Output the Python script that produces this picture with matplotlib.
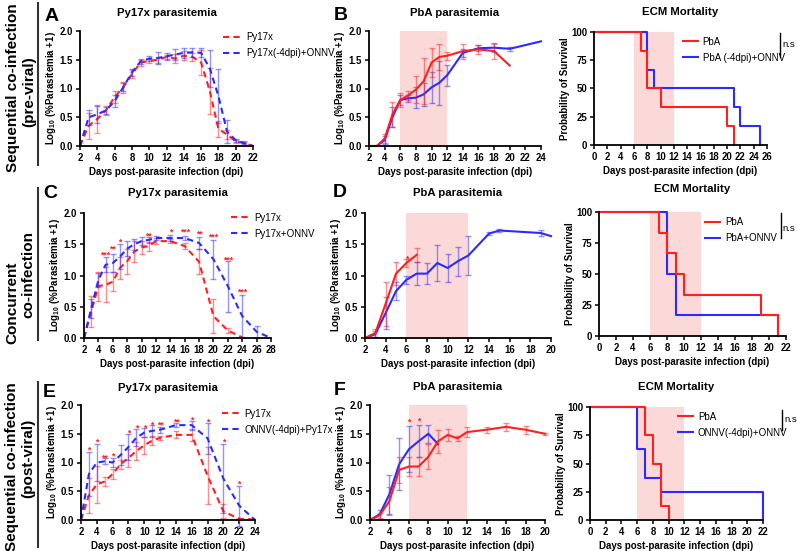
import matplotlib
matplotlib.use("Agg")
import matplotlib.pyplot as plt
from matplotlib.lines import Line2D
from matplotlib.ticker import FormatStrFormatter, MultipleLocator
import numpy as np

plt.rcParams['font.family'] = ['Liberation Sans', 'DejaVu Sans']
plt.rcParams['font.weight'] = 'bold'
plt.rcParams['axes.labelweight'] = 'bold'
plt.rcParams['mathtext.fontset'] = 'custom'
plt.rcParams['mathtext.rm'] = 'Liberation Sans:bold'
plt.rcParams['mathtext.default'] = 'rm'

RED = '#ff1f1f'
BLUE = '#2b2bff'
SHADE = '#fcd9d9'

# ---------------- Data ----------------
# Panel A (Py17x, pre-viral)
A_days = [2, 3, 4, 5, 6, 7, 8, 9, 10, 11, 12, 13, 14, 15, 16, 17, 18, 19, 20, 21, 22]
A_red = [0, 0.35, 0.47, 0.62, 0.85, 1.02, 1.25, 1.45, 1.48, 1.50, 1.55, 1.52, 1.57, 1.55, 1.45, 0.96, 0.30, 0.20, 0.08, 0.05, 0.0]
A_red_err = [0, 0.22, 0.25, 0.08, 0.11, 0.10, 0.07, 0.05, 0.04, 0.05, 0.03, 0.08, 0.08, 0.07, 0.22, 0.40, 0.14, 0.08, 0.03, 0.03, 0]
A_blue = [0, 0.50, 0.55, 0.62, 0.78, 1.02, 1.28, 1.47, 1.52, 1.53, 1.56, 1.59, 1.62, 1.63, 1.62, 1.35, 0.87, 0.25, 0.10, 0.05, 0.0]
A_blue_err = [0, 0.13, 0.15, 0.06, 0.10, 0.07, 0.06, 0.05, 0.05, 0.10, 0.06, 0.10, 0.09, 0.08, 0.08, 0.32, 0.47, 0.20, 0.03, 0.02, 0]

# Panel B (PbA, pre-viral)
B_red_days = [2, 3, 4, 5, 6, 7, 8, 9, 10, 11, 12, 14, 16, 18, 20]
B_red = [0, 0, 0.13, 0.55, 0.80, 0.88, 0.98, 1.13, 1.45, 1.55, 1.57, 1.65, 1.68, 1.65, 1.40]
B_red_err = [0, 0, 0.08, 0.22, 0.13, 0.08, 0.23, 0.40, 0.25, 0.22, 0.07, 0.13, 0.08, 0.13, 0]
B_blue_days = [2, 3, 4, 5, 6, 7, 8, 9, 10, 11, 12, 14, 16, 18, 20, 24]
B_blue = [0, 0, 0.10, 0.50, 0.80, 0.83, 0.84, 0.90, 1.02, 1.10, 1.23, 1.62, 1.70, 1.71, 1.69, 1.82]
B_blue_err = [0, 0, 0.07, 0.17, 0.08, 0.06, 0.18, 0.20, 0.27, 0.38, 0.18, 0.07, 0.05, 0.08, 0.03, 0]

# Panel C (Py17x, concurrent)
C_red_days = [2, 3, 4, 5, 6, 7, 8, 9, 10, 11, 12, 14, 16, 18, 20, 22, 24]
C_red = [0, 0.42, 0.83, 0.85, 0.90, 1.12, 1.23, 1.38, 1.45, 1.47, 1.55, 1.55, 1.47, 1.22, 0.35, 0.12, 0.01]
C_red_err = [0, 0.25, 0.23, 0.28, 0.15, 0.18, 0.20, 0.17, 0.10, 0.07, 0.05, 0.03, 0.05, 0.20, 0.27, 0.04, 0]
C_blue_days = [2, 3, 4, 5, 6, 7, 8, 9, 10, 11, 12, 14, 16, 18, 20, 22, 24, 26, 28]
C_blue = [0, 0.47, 0.93, 1.17, 1.20, 1.30, 1.43, 1.50, 1.55, 1.57, 1.60, 1.60, 1.60, 1.52, 1.26, 0.83, 0.35, 0.10, 0.0]
C_blue_err = [0, 0.15, 0.11, 0.12, 0.15, 0.20, 0.12, 0.09, 0.06, 0.05, 0.03, 0.05, 0.03, 0.10, 0.31, 0.41, 0.34, 0.10, 0]
C_star_x = [5, 6, 7, 11, 14, 16, 18, 20, 22, 24]
C_star_y = [1.33, 1.43, 1.53, 1.63, 1.70, 1.69, 1.66, 1.62, 1.25, 0.73]
C_star_txt = ['***', '**', '*', '**', '*', '***', '**', '***', '***', '***']

# Panel D (PbA, concurrent)
D_red_days = [2, 3, 4, 5, 6, 7]
D_red = [0, 0.08, 0.55, 1.03, 1.20, 1.33]
D_red_err = [0, 0.06, 0.35, 0.18, 0.06, 0.11]
D_blue_days = [2, 3, 4, 5, 6, 7, 8, 9, 10, 11, 12, 14, 15, 19, 20]
D_blue = [0, 0.06, 0.40, 0.75, 0.93, 1.03, 1.03, 1.20, 1.12, 1.23, 1.32, 1.67, 1.72, 1.68, 1.63]
D_blue_err = [0, 0.05, 0.26, 0.14, 0.07, 0.18, 0.17, 0.29, 0.23, 0.23, 0.31, 0.02, 0.02, 0.05, 0]
D_star_x = [6]
D_star_y = [1.27]
D_star_txt = ['*']

# Panel E (Py17x, post-viral)
E_days = [2, 3, 4, 5, 6, 7, 8, 9, 10, 11, 12, 14, 16, 18, 20, 22, 24]
E_red = [0, 0.43, 0.62, 0.67, 0.80, 0.97, 1.08, 1.20, 1.30, 1.38, 1.43, 1.48, 1.48, 0.77, 0.15, 0.02, 0.01]
E_red_err = [0, 0.30, 0.32, 0.07, 0.08, 0.08, 0.15, 0.15, 0.15, 0.08, 0.03, 0.06, 0.10, 0.50, 0.12, 0.02, 0]
E_blue = [0, 0.80, 1.00, 1.02, 1.00, 1.13, 1.27, 1.43, 1.52, 1.55, 1.57, 1.65, 1.65, 1.42, 0.72, 0.25, 0.0]
E_blue_err = [0, 0.38, 0.32, 0.05, 0.08, 0.17, 0.23, 0.15, 0.08, 0.10, 0.05, 0.03, 0.08, 0.27, 0.60, 0.35, 0]
E_star_x = [3, 4, 5, 6, 8, 9, 10, 11, 12, 14, 16, 18, 20, 22]
E_star_y = [1.22, 1.35, 1.08, 1.11, 1.51, 1.60, 1.60, 1.66, 1.66, 1.70, 1.74, 1.71, 1.35, 0.62]
E_star_txt = ['*', '*', '**', '*', '*', '*', '*', '*', '**', '**', '*', '*', '*', '*']

# Panel F (PbA, post-viral)
F_red_days = [2, 3, 4, 5, 6, 7, 8, 9, 10, 11, 12, 14, 16, 18, 20]
F_red = [0, 0.08, 0.33, 0.87, 0.93, 0.93, 1.10, 1.37, 1.48, 1.42, 1.53, 1.57, 1.62, 1.57, 1.50]
F_red_err = [0, 0.04, 0.25, 0.23, 0.16, 0.16, 0.22, 0.20, 0.10, 0.04, 0.08, 0.05, 0.07, 0.07, 0.02]
F_blue_days = [2, 3, 4, 5, 6, 7, 8, 9]
F_blue = [0, 0.10, 0.45, 0.97, 1.23, 1.37, 1.50, 1.32]
F_blue_err = [0, 0.08, 0.34, 0.45, 0.40, 0.28, 0.16, 0]
F_star_x = [6, 7]
F_star_y = [1.71, 1.72]
F_star_txt = ['*', '*']

# Survival (ECM mortality)
S1_red_t = [0, 7, 8, 10, 20, 21]
S1_red_s = [100, 83.3, 50, 33.3, 16.7, 0]
S1_blue_t = [0, 8, 9, 21, 22, 25]
S1_blue_s = [100, 66.7, 50, 33.3, 16.7, 0]
S2_red_t = [0, 7, 8, 9, 10, 19, 21]
S2_red_s = [100, 83.3, 66.7, 50, 33.3, 16.7, 0]
S2_blue_t = [0, 8, 9, 21]
S2_blue_s = [100, 50, 16.7, 0]
S3_red_t = [0, 7, 8, 9, 10]
S3_red_s = [100, 75, 50, 12.5, 0]
S3_blue_t = [0, 6, 7, 9, 22]
S3_blue_s = [100, 62.5, 37.5, 25, 0]

# ---------------- Figure ----------------
W, H = 797, 551
fig = plt.figure(figsize=(W / 100, H / 100), dpi=100)


def rect(l, t, r, b):
    return [l / W, 1 - b / H, (r - l) / W, (b - t) / H]


def style(ax, xmax, xmin, ymax, ystep, yfmt):
    for s in ['top', 'right']:
        ax.spines[s].set_visible(False)
    for s in ['left', 'bottom']:
        ax.spines[s].set_linewidth(1.3)
    ax.set_xlim(xmin, xmax)
    ax.set_ylim(0, ymax)
    ax.xaxis.set_major_locator(MultipleLocator(2))
    ax.yaxis.set_major_locator(MultipleLocator(ystep))
    ax.yaxis.set_major_formatter(FormatStrFormatter(yfmt))
    ax.tick_params(labelsize=6.9, width=1.1, length=3, pad=2)
    ax.set_xlabel('Days post-parasite infection (dpi)', fontsize=7, labelpad=3)


def para(ax, x, y, e, color, ls):
    x = np.asarray(x, float); y = np.asarray(y, float); e = np.asarray(e, float)
    m = e > 0
    ax.errorbar(x[m], y[m], yerr=e[m], fmt='none', ecolor=color, elinewidth=1,
                capsize=2.5, capthick=1, alpha=0.5, clip_on=False)
    ax.plot(x, y, color=color, ls=ls, lw=1.5, clip_on=False)


def stars(ax, xs, ys, txt):
    for x, y, t in zip(xs, ys, txt):
        ax.text(x, y, t, color=RED, fontsize=6.3, ha='center', va='center')


def para_axes(r, xmin, xmax):
    ax = fig.add_axes(rect(*r))
    style(ax, xmax, xmin, 2.0, 0.5, '%.1f')
    ax.set_ylabel('Log$_{10}$ (%Parasitemia +1)', fontsize=7, labelpad=1)
    return ax


def surv_axes(r, xmax):
    ax = fig.add_axes(rect(*r))
    style(ax, xmax, 0, 100, 25, '%d')
    ax.set_ylabel('Probability of Survival', fontsize=7, labelpad=1)
    ax.axvspan(6, 12, color=SHADE, lw=0, zorder=0)
    return ax


DASH = (0, (3, 2))
LEG = {'weight': 'normal', 'size': 7.0}

# Row 1
axA = para_axes((80, 31, 253, 146), 2, 22)
para(axA, A_days, A_red, A_red_err, RED, DASH)
para(axA, A_days, A_blue, A_blue_err, BLUE, DASH)
axA.legend(handles=[Line2D([], [], color=RED, ls=DASH, lw=1.5),
                    Line2D([], [], color=BLUE, ls=DASH, lw=1.5)],
           labels=['Py17x', 'Py17x(-4dpi)+ONNV'], loc='upper left',
           bbox_to_anchor=(0.80, 1.03), frameon=False, borderpad=0, handlelength=1.9,
           handletextpad=0.45, labelspacing=0.6, prop=LEG)

axB = para_axes((369, 31, 541, 146), 2, 24)
axB.axvspan(6, 12, color=SHADE, lw=0, zorder=0)
para(axB, B_blue_days, B_blue, B_blue_err, BLUE, '-')
para(axB, B_red_days, B_red, B_red_err, RED, '-')

axS1 = surv_axes((594, 32, 767, 145), 26)
axS1.step(S1_blue_t, S1_blue_s, where='post', color=BLUE, lw=1.5, clip_on=False)
axS1.step(S1_red_t, S1_red_s, where='post', color=RED, lw=1.5, clip_on=False)

# Row 2
axC = para_axes((84, 213, 271, 338), 2, 28)
para(axC, C_red_days, C_red, C_red_err, RED, DASH)
para(axC, C_blue_days, C_blue, C_blue_err, BLUE, DASH)
stars(axC, C_star_x, C_star_y, C_star_txt)
axC.legend(handles=[Line2D([], [], color=RED, ls=DASH, lw=1.5),
                    Line2D([], [], color=BLUE, ls=DASH, lw=1.5)],
           labels=['Py17x', 'Py17x+ONNV'], loc='upper left',
           bbox_to_anchor=(0.76, 1.04), frameon=False, borderpad=0, handlelength=1.9,
           handletextpad=0.45, labelspacing=0.6, prop=LEG)

axD = para_axes((365, 213, 551, 338), 2, 20)
axD.axvspan(6, 12, color=SHADE, lw=0, zorder=0)
para(axD, D_blue_days, D_blue, D_blue_err, BLUE, '-')
para(axD, D_red_days, D_red, D_red_err, RED, '-')
stars(axD, D_star_x, D_star_y, D_star_txt)

axS2 = surv_axes((599, 212, 786, 336), 22)
axS2.step(S2_blue_t, S2_blue_s, where='post', color=BLUE, lw=1.5, clip_on=False)
axS2.step(S2_red_t, S2_red_s, where='post', color=RED, lw=1.5, clip_on=False)

# Row 3
axE = para_axes((81, 405, 255, 520), 2, 24)
para(axE, E_days, E_red, E_red_err, RED, DASH)
para(axE, E_days, E_blue, E_blue_err, BLUE, DASH)
stars(axE, E_star_x, E_star_y, E_star_txt)
axE.legend(handles=[Line2D([], [], color=RED, ls=DASH, lw=1.5),
                    Line2D([], [], color=BLUE, ls=DASH, lw=1.5)],
           labels=['Py17x', 'ONNV(-4dpi)+Py17x'], loc='upper left',
           bbox_to_anchor=(0.78, 1.01), frameon=False, borderpad=0, handlelength=1.9,
           handletextpad=0.45, labelspacing=0.6, prop=LEG)

axF = para_axes((370, 405, 545, 520), 2, 20)
axF.axvspan(6, 12, color=SHADE, lw=0, zorder=0)
para(axF, F_blue_days, F_blue, F_blue_err, BLUE, '-')
para(axF, F_red_days, F_red, F_red_err, RED, '-')
stars(axF, F_star_x, F_star_y, F_star_txt)

axS3 = surv_axes((590, 407, 763, 520), 22)
axS3.step(S3_blue_t, S3_blue_s, where='post', color=BLUE, lw=1.5, clip_on=False)
axS3.step(S3_red_t, S3_red_s, where='post', color=RED, lw=1.5, clip_on=False)

# Survival legends and n.s
surv_leg = [(axS1, ['PbA', 'PbA (-4dpi)+ONNV'], (0.485, 1.0), (1.075, 0.99, 0.78), (1.087, 0.89)),
            (axS2, ['PbA', 'PbA+ONNV'], (0.54, 0.995), (0.973, 0.99, 0.79), (0.982, 0.87)),
            (axS3, ['PbA', 'ONNV(-4dpi)+ONNV'], (0.48, 1.0), (1.11, 0.97, 0.80), (1.122, 0.885))]
for ax, labs, anc, bar, nst in surv_leg:
    ax.legend(handles=[Line2D([], [], color=RED, lw=1.5), Line2D([], [], color=BLUE, lw=1.5)],
              labels=labs, loc='upper left', bbox_to_anchor=anc, frameon=False, borderpad=0,
              handlelength=1.6, handletextpad=0.45, labelspacing=0.6, prop=LEG)
    ax.plot([bar[0], bar[0]], [bar[1], bar[2]], transform=ax.transAxes, color='black',
            lw=1.0, clip_on=False)
    ax.text(nst[0], nst[1], 'n.s', transform=ax.transAxes, fontsize=6.8,
            fontweight='normal', ha='left', va='center')

# Titles
titles = [(axA, 'Py17x parasitemia', 13), (axB, 'PbA parasitemia', 13), (axS1, 'ECM Mortality', 12),
          (axC, 'Py17x parasitemia', 193), (axD, 'PbA parasitemia', 193), (axS2, 'ECM Mortality', 189),
          (axE, 'Py17x parasitemia', 388), (axF, 'PbA parasitemia', 387), (axS3, 'ECM Mortality', 387)]
for ax, t, y in titles:
    pos = ax.get_position()
    fig.text(pos.x0 + pos.width / 2, 1 - y / H, t, fontsize=8.2, ha='center', va='center')

# Panel letters
for lab, x, y in [('A', 45, 21), ('B', 334, 20), ('C', 43, 198), ('D', 333, 197),
                  ('E', 43, 397), ('F', 334, 395)]:
    fig.text(x / W, 1 - y / H, lab, fontsize=14, ha='left', va='baseline')

# Row labels
for txt, x, y in [('Sequential co-infection', 13, 88), ('(pre-viral)', 29, 92),
                  ('Concurrent', 12, 303), ('co-infection', 28, 275),
                  ('Sequential co-infection', 12, 467), ('(post-viral)', 28, 458)]:
    fig.text(x / W, 1 - y / H, txt, fontsize=11, rotation=90, ha='center', va='center')

for y0, y1 in [(3, 165), (188, 340), (382, 547)]:
    fig.add_artist(Line2D([38 / W, 38 / W], [1 - y0 / H, 1 - y1 / H], color='#333333', lw=1.5))

fig.savefig('out.png', dpi=100)
